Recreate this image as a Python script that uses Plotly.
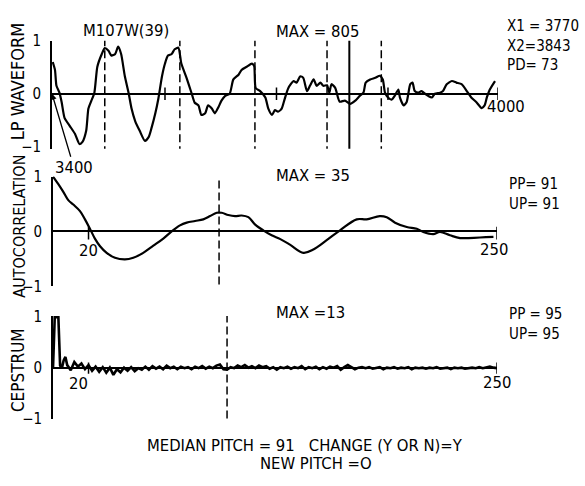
import plotly.graph_objects as go

W, H = 585, 486

# ---------------- data ----------------
# LP waveform (sample index, normalised amplitude)
lp_x = [3401, 3404, 3406, 3410, 3413, 3417, 3424, 3431, 3437, 3441, 3446, 3449, 3453, 3457, 3461, 3467,
        3471, 3476, 3480, 3485, 3489, 3493, 3498, 3503, 3507, 3512, 3518, 3525, 3530, 3534, 3539, 3543,
        3548, 3552, 3556, 3561, 3565, 3570, 3574, 3581, 3588, 3592, 3597, 3601, 3606, 3610, 3615, 3619,
        3624, 3628, 3633, 3639, 3644, 3651, 3655, 3662, 3669, 3672, 3674, 3680, 3687, 3691, 3696, 3700,
        3704, 3709, 3713, 3718, 3725, 3729, 3734, 3738, 3743, 3747, 3752, 3756, 3761, 3765, 3770, 3773,
        3776, 3781, 3787, 3794, 3801, 3808, 3814, 3819, 3822, 3828, 3835, 3841, 3845, 3848, 3852, 3857,
        3861, 3866, 3868, 3873, 3877, 3882, 3885, 3888, 3893, 3897, 3902, 3906, 3911, 3915, 3922, 3926,
        3931, 3938, 3944, 3951, 3958, 3964, 3971, 3978, 3982, 3985, 3989, 3996]
lp_y = [0.60, 0.45, 0.15, 0.02, -0.16, -0.46, -0.61, -0.76, -0.95, -0.91, -0.70, -0.28, -0.13, 0.02, 0.51, 0.75,
        0.86, 0.81, 0.72, 0.75, 0.89, 0.75, 0.33, 0.02, -0.28, -0.52, -0.70, -0.89, -0.82, -0.64, -0.37, -0.10,
        0.33, 0.57, 0.72, 0.75, 0.84, 0.87, 0.57, 0.30, 0.00, -0.17, -0.22, -0.40, -0.37, -0.22, -0.28, -0.37,
        -0.25, -0.13, -0.04, 0.00, 0.27, 0.36, 0.45, 0.51, 0.57, 0.52, 0.11, 0.05, -0.07, -0.28, -0.40, -0.31,
        -0.34, -0.28, -0.10, 0.11, 0.24, 0.21, 0.33, 0.30, 0.05, 0.15, 0.27, 0.15, 0.21, 0.15, 0.16, 0.02,
        0.18, 0.11, -0.15, -0.13, -0.19, -0.13, -0.04, 0.02, 0.21, 0.27, 0.30, 0.34, 0.27, 0.02, -0.07, -0.11,
        -0.04, 0.08, -0.07, -0.22, -0.16, 0.18, 0.21, 0.05, 0.02, 0.05, 0.00, -0.04, -0.07, 0.00, 0.02, 0.05,
        0.18, 0.24, 0.21, 0.18, 0.05, -0.07, -0.16, -0.27, -0.22, -0.07, 0.08, 0.24]
lp_dashed = [3471, 3572, 3673, 3770, 3843]
lp_solid = [3800]
lp_ticks = [3552, 3702, 3852, 4000]

# Autocorrelation (lag, value)
ac_lag = [0, 3, 5.8, 8.6, 11.4, 15.2, 18, 20.8, 23.6, 26.5, 30.2, 34.9, 40.5, 45.2, 50.8, 56.5, 62.1, 66.8,
          71.5, 75.3, 80, 84.6, 88.4, 92.2, 95, 98.7, 102.5, 106.2, 110, 113.7, 118.4, 123.1, 128, 133.4,
          141, 146.6, 154.1, 161.6, 171, 176.6, 184, 187.9, 192.6, 199.2, 204.8, 208.5, 214.1, 217.9,
          223.5, 229.2, 240.4, 248]
ac_val = [1.0, 0.86, 0.72, 0.57, 0.49, 0.37, 0.22, 0.05, -0.13, -0.27, -0.39, -0.48, -0.51, -0.48, -0.39,
          -0.26, -0.13, 0.0, 0.11, 0.16, 0.19, 0.22, 0.28, 0.34, 0.34, 0.30, 0.28, 0.29, 0.26, 0.13, 0.02,
          -0.07, -0.14, -0.24, -0.39, -0.33, -0.16, 0.02, 0.22, 0.22, 0.28, 0.26, 0.16, 0.08, 0.05, -0.01,
          -0.05, -0.01, -0.07, -0.12, -0.11, -0.10]
ac_marker = [93.5]
ac_ticks = [20, 250]

# Cepstrum (lag, value)
cep_lag = [0, 1, 2, 3, 4, 5, 6, 7, 8] + list(range(10, 251, 2))
cep_val = [0.0, 1.02, 1.0, 1.02, 0.05, 0.0, 0.15, 0.22, 0.06,
           -0.04, 0.12, 0.03, 0.09, -0.02, 0.06, -0.05, 0.03, -0.07, 0.02, -0.09, 0.01, -0.13, -0.02, -0.08,
           0.01, -0.05, 0.02, -0.06, 0.0, -0.03, 0.03, -0.03, 0.04, -0.01, 0.03, -0.02, 0.05, 0.0, 0.03,
           -0.02, 0.03, 0.0, 0.02, -0.02, 0.03, 0.0, 0.04, -0.01, 0.03, 0.0, 0.05, 0.07, -0.02, -0.03, 0.02,
           0.0, 0.05, 0.02, 0.06, 0.01, 0.04, 0.0, 0.05, 0.02, 0.04, -0.01, 0.02, -0.03, 0.02, 0.0, 0.03,
           -0.01, 0.02, 0.0, 0.04, -0.02, 0.02, 0.0, 0.03, -0.02, 0.02, -0.01, 0.03, 0.01, 0.04, -0.03, 0.02,
           0.06, 0.02, -0.02, 0.01, 0.02, 0.0, 0.02, -0.01, 0.01, 0.02, -0.02, 0.01, 0.0, 0.02, -0.01, 0.01,
           0.0, 0.02, -0.02, 0.01, 0.0, 0.01, -0.01, 0.01, 0.0, 0.02, -0.01, 0.0, 0.01, -0.02, 0.01, 0.0,
           0.01, -0.01, 0.0, 0.01, 0.0, 0.02, 0.0, 0.01, 0.03, 0.01, 0.0]
cep_marker = [98]
cep_ticks = [20, 250]

ytick_vals = [-1, 0, 1]
ytick_text = ["\u22121", "0", "1"]

info1 = ["X1 = 3770", "X2=3843", "PD= 73"]
info2 = ["PP= 91", "UP= 91"]
info3 = ["PP = 95", "UP= 95"]

FONT = "DejaVu Sans Condensed, Liberation Sans Narrow, Liberation Sans, Arial, sans-serif"
INK = "#000000"
FS = 16.5


def vlines(xs, y0, y1):
    xx, yy = [], []
    for x in xs:
        xx += [x, x, None]
        yy += [y0, y1, None]
    return xx, yy


fig = go.Figure()
DASH = "8px,4px"

# ---- panel 1 ----
fig.add_trace(go.Scatter(x=lp_x, y=lp_y, mode="lines", line=dict(color=INK, width=2.2, shape="spline", smoothing=0.6),
                         xaxis="x", yaxis="y"))
dx, dy = vlines(lp_dashed, 1.05, -1.05)
fig.add_trace(go.Scatter(x=dx, y=dy, mode="lines", line=dict(color=INK, width=1.5, dash=DASH), xaxis="x", yaxis="y"))
sx, sy = vlines(lp_solid, 1.05, -1.05)
fig.add_trace(go.Scatter(x=sx, y=sy, mode="lines", line=dict(color=INK, width=2), xaxis="x", yaxis="y"))
fig.add_trace(go.Scatter(x=lp_ticks, y=[0] * len(lp_ticks), mode="markers",
                         marker=dict(symbol="line-ns", size=9, line=dict(color=INK, width=1.5)), xaxis="x", yaxis="y"))

# ---- panel 2 ----
fig.add_trace(go.Scatter(x=ac_lag, y=ac_val, mode="lines", line=dict(color=INK, width=2.2, shape="spline"),
                         xaxis="x2", yaxis="y2"))
dx, dy = vlines(ac_marker, 0.93, -1.0)
fig.add_trace(go.Scatter(x=dx, y=dy, mode="lines", line=dict(color=INK, width=1.5, dash=DASH), xaxis="x2", yaxis="y2"))
fig.add_trace(go.Scatter(x=ac_ticks, y=[-0.03] * len(ac_ticks), mode="markers",
                         marker=dict(symbol="line-ns", size=9, line=dict(color=INK, width=1.5)), xaxis="x2", yaxis="y2"))

# ---- panel 3 ----
fig.add_trace(go.Scatter(x=cep_lag, y=cep_val, mode="lines", line=dict(color=INK, width=2.6), xaxis="x3", yaxis="y3"))
dx, dy = vlines(cep_marker, 1.05, -1.03)
fig.add_trace(go.Scatter(x=dx, y=dy, mode="lines", line=dict(color=INK, width=1.5, dash=DASH), xaxis="x3", yaxis="y3"))
fig.add_trace(go.Scatter(x=cep_ticks, y=[0] * len(cep_ticks), mode="markers",
                         marker=dict(symbol="line-ns", size=8, line=dict(color=INK, width=1.5)), xaxis="x3", yaxis="y3"))


def xax(lo, hi, rng, anchor):
    return dict(domain=[lo / W, hi / W], range=rng, showline=False, showgrid=False, zeroline=False,
                showticklabels=False, ticks="", anchor=anchor, fixedrange=True)


def yax(top, bot, rng, anchor):
    return dict(domain=[1 - bot / H, 1 - top / H], range=rng, showline=True, linecolor=INK, linewidth=1.8,
                showgrid=False, zeroline=True, zerolinecolor=INK, zerolinewidth=1.5,
                tickvals=ytick_vals, ticktext=ytick_text, ticks="", ticklabelstandoff=6,
                tickfont=dict(size=15, color=INK, family=FONT), anchor=anchor, fixedrange=True)


def P(x, y, text, size=FS, **kw):
    d = dict(x=x / W, y=1 - y / H, xref="paper", yref="paper", text=text, showarrow=False,
             font=dict(size=size, color=INK, family=FONT), xanchor="center", yanchor="middle")
    d.update(kw)
    return d


def D(x, y, xr, yr, text, xs, ys):
    return dict(x=x, y=y, xref=xr, yref=yr, text=text, showarrow=False, xshift=xs, yshift=ys,
                font=dict(size=FS, color=INK, family=FONT))


annotations = [
    P(126, 22, "M107W(39)"),
    P(317, 23, "MAX = 805"),
    P(505, 6, "<br>".join(info1), 15, xanchor="left", yanchor="top", align="left"),
    P(313, 173, "MAX = 35"),
    P(507, 170, "<br>".join(info2), 15, xanchor="left", yanchor="top", align="left"),
    P(310, 315, "MAX =13"),
    P(507, 305, "<br>".join(info3), 15, xanchor="left", yanchor="top", align="left"),
    P(305, 453, "MEDIAN PITCH = 91   CHANGE (Y OR N)=Y"),
    P(316, 472, "NEW PITCH =O"),
    P(17, 76, "LP WAVEFORM", 18, textangle=-90),
    P(20, 226, "AUTOCORRELATION", 16, textangle=-90),
    P(18, 375, "CEPSTRUM", 17, textangle=-90),
    # axis end / tick labels tied to data coordinates
    D(4000, 0, "x", "y", "4000", 8, -13),
    D(ac_ticks[0], 0, "x2", "y2", str(ac_ticks[0]), 0, -19),
    D(ac_ticks[1], 0, "x2", "y2", str(ac_ticks[1]), -3, -18),
    D(cep_ticks[0], 0, "x3", "y3", str(cep_ticks[0]), -10, -15),
    D(cep_ticks[1], 0, "x3", "y3", str(cep_ticks[1]), 0, -14),
    dict(x=3400, y=0.0, xref="x", yref="y", text="3400", showarrow=True, ax=22, ay=74,
         arrowhead=2, arrowsize=0.9, arrowwidth=1.3, arrowcolor=INK,
         font=dict(size=FS, color=INK, family=FONT)),
]

fig.update_layout(
    width=W, height=H, autosize=False,
    margin=dict(l=0, r=0, t=0, b=0),
    paper_bgcolor="white", plot_bgcolor="rgba(0,0,0,0)",
    showlegend=False,
    xaxis=xax(52, 498, [3400, 4000], "y"),
    yaxis=yax(33, 145.2, [-1.04, 1.0], "x"),
    xaxis2=xax(53, 497, [0, 250], "y2"),
    yaxis2=yax(174, 288, [-1.0, 1.0], "x2"),
    xaxis3=xax(53, 497, [0, 250], "y3"),
    yaxis3=yax(318.9, 426, [-1.0, 1.02], "x3"),
    annotations=annotations,
)

fig.write_html("out.html", config=dict(displayModeBar=False))
